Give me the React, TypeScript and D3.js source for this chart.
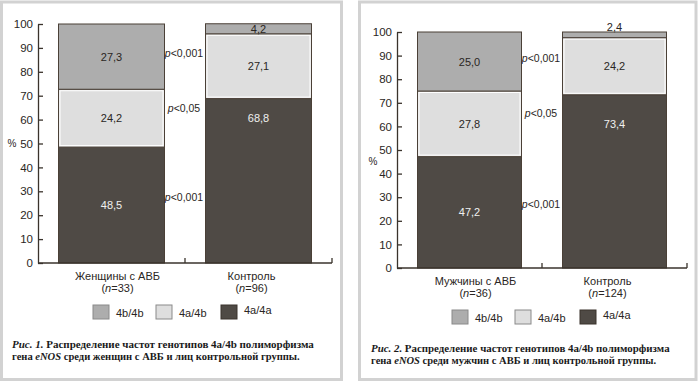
import React from "react";
import * as d3 from "d3";

// ---------- data ----------
const stackKeys = ["4a/4a", "4a/4b", "4b/4b"]; // bottom -> top
const legendKeys = ["4b/4b", "4a/4b", "4a/4a"];
const yTicks = [0, 10, 20, 30, 40, 50, 60, 70, 80, 90, 100];
const pLabels = ["p<0,001", "p<0,05", "p<0,001"]; // bottom, middle, top layer

const fig1Categories = ["Женщины с АВБ", "Контроль"];
const fig1N = ["33", "96"];
const fig1Homo4a = [48.5, 68.8];
const fig1Hetero = [24.2, 27.1];
const fig1Homo4b = [27.3, 4.2];
const fig1CaptionNo = "Рис. 1.";
const fig1CaptionLine1 = " Распределение частот генотипов 4a/4b полиморфизма";
const fig1CaptionLine2 = " среди женщин с АВБ и лиц контрольной группы.";

const fig2Categories = ["Мужчины с АВБ", "Контроль"];
const fig2N = ["36", "124"];
const fig2Homo4a = [47.2, 73.4];
const fig2Hetero = [27.8, 24.2];
const fig2Homo4b = [25.0, 2.4];
const fig2CaptionNo = "Рис. 2.";
const fig2CaptionLine1 = " Распределение частот генотипов 4a/4b полиморфизма";
const fig2CaptionLine2 = " среди мужчин с АВБ и лиц контрольной группы.";

// ---------- styles ----------
const colors: Record<string, string> = {
  "4a/4a": "#4f4a45",
  "4a/4b": "#dedede",
  "4b/4b": "#adadad",
};
const SANS = "'Liberation Sans', Arial, sans-serif";
const SERIF = "'Liberation Serif', 'Times New Roman', serif";
const fmt = (v: number) => d3.format(".1f")(v).replace(".", ",");

type PanelProps = {
  categories: string[];
  ns: string[];
  homo4a: number[];
  hetero: number[];
  homo4b: number[];
  capNo: string;
  cap1: string;
  cap2: string;
  frame: { x: number; y: number; w: number; h: number };
  left: number;
  right: number;
  y0: number;
  y100: number;
  pctX: number;
  pctValue: number;
  capX: number;
  capY: number;
  capScale: [number, number];
};

function Panel(p: PanelProps) {
  const rows = p.categories.map((c, i) => ({
    cat: c,
    "4a/4a": p.homo4a[i],
    "4a/4b": p.hetero[i],
    "4b/4b": p.homo4b[i],
  }));
  const series = d3.stack<any>().keys(stackKeys)(rows);
  const y = d3.scaleLinear().domain([0, 100]).range([p.y0, p.y100]);
  const x = d3.scaleBand().domain(p.categories).range([p.left, p.right]).padding(0);
  const bw = x.bandwidth();
  const barW = bw - 41;
  const barX = (c: string) => (x(c) as number) + (bw - barW) / 2;
  const axisRef = React.useRef<SVGGElement>(null);
  React.useEffect(() => {
    if (!axisRef.current) return;
    const g = d3.select(axisRef.current);
    g.call(
      d3
        .axisLeft(y)
        .tickValues(yTicks)
        .tickSizeInner(-5)
        .tickSizeOuter(0)
        .tickPadding(5)
        .tickFormat(d3.format("d") as any)
    );
    g.selectAll("path,line").attr("stroke", "#3a332c").attr("stroke-width", 1.3);
    g.selectAll("text")
      .attr("fill", "#2a2623")
      .attr("font-size", 11.5)
      .attr("font-family", SANS);
  });

  const center = (bar: number, layer: number) => {
    const s = series[layer][bar];
    return (s[0] + s[1]) / 2;
  };
  const labelValue = (bar: number, layer: number) =>
    bar === 1 && layer === 0 ? center(0, 1) : center(bar, layer);
  const pOffsets = [-8.5, -10.5, -4];
  const boundary = x(p.categories[1]) as number;
  const labelOffsets = [6, -7];

  return (
    <g>
      <rect
        x={p.frame.x}
        y={p.frame.y}
        width={p.frame.w}
        height={p.frame.h}
        fill="#fff"
        stroke="#d2d2d2"
        strokeWidth={3}
      />
      {/* bars */}
      {series.map((s, li) =>
        s.map((d, bi) => {
          const c = p.categories[bi];
          const top = y(d[1]);
          const bot = y(d[0]);
          return (
            <g key={`${li}-${bi}`}>
              <rect
                x={barX(c)}
                y={top}
                width={barW}
                height={bot - top}
                fill={colors[stackKeys[li]]}
                stroke="#4a4037"
                strokeWidth={1}
              />
              {stackKeys[li] === "4a/4b" && (
                <rect
                  x={barX(c) + 1.5}
                  y={top + 1.5}
                  width={barW - 3}
                  height={bot - top - 3}
                  fill="none"
                  stroke="#fff"
                  strokeWidth={1}
                />
              )}
            </g>
          );
        })
      )}
      {/* value labels */}
      {series.map((s, li) =>
        s.map((d, bi) => {
          const c = p.categories[bi];
          const top = y(d[1]);
          const bot = y(d[0]);
          const small = bot - top < 8;
          const yy = small ? top - 5 : y(labelValue(bi, li));
          const fill = stackKeys[li] === "4a/4a" ? "#f0f0f0" : "#2a2623";
          return (
            <text
              key={`l${li}-${bi}`}
              x={barX(c) + barW / 2}
              y={yy}
              textAnchor="middle"
              dominantBaseline="central"
              fontFamily={SANS}
              fontSize={11}
              fill={fill}
            >
              {fmt(d[1] - d[0])}
            </text>
          );
        })
      )}
      {/* p values */}
      {pLabels.map((t, li) => (
        <text
          key={`p${li}`}
          x={boundary - 1}
          y={y(center(0, li)) + pOffsets[li]}
          textAnchor="middle"
          dominantBaseline="central"
          fontFamily={SANS}
          fontSize={10.5}
          fill="#2a2623"
        >
          <tspan fontStyle="italic">p</tspan>
          {t.slice(1)}
        </text>
      ))}
      {/* y axis */}
      <g ref={axisRef} transform={`translate(${p.left},0)`} />
      <text
        x={p.pctX}
        y={y(p.pctValue)}
        textAnchor="middle"
        dominantBaseline="central"
        fontFamily={SANS}
        fontSize={10}
        fill="#2a2623"
      >
        %
      </text>
      {/* x axis */}
      <line x1={p.left} x2={p.right} y1={p.y0} y2={p.y0} stroke="#3a332c" strokeWidth={1.3} />
      {[boundary, p.right].map((bx, i) => (
        <line key={`xt${i}`} x1={bx} x2={bx} y1={p.y0} y2={p.y0 - 5} stroke="#3a332c" strokeWidth={1.3} />
      ))}
      {p.categories.map((c, i) => (
        <g key={`c${i}`}>
          <text
            x={(x(c) as number) + bw / 2 + labelOffsets[i]}
            y={p.y0 + 17}
            textAnchor="middle"
            fontFamily={SANS}
            fontSize={11}
            fill="#2a2623"
          >
            {c}
          </text>
          <text
            x={(x(c) as number) + bw / 2 + labelOffsets[i]}
            y={p.y0 + 29}
            textAnchor="middle"
            fontFamily={SANS}
            fontSize={11}
            fill="#2a2623"
          >
            (<tspan fontStyle="italic">n</tspan>={p.ns[i]})
          </text>
        </g>
      ))}
      {/* legend */}
      {legendKeys.map((k, i) => {
        const lx = p.left + [55, 118, 183][i];
        return (
          <g key={`lg${i}`}>
            <rect
              x={lx}
              y={p.y0 + 42}
              width={16}
              height={14}
              fill={colors[k]}
              stroke={k === "4a/4a" ? "#3a332c" : "#8a8a8a"}
              strokeWidth={1}
            />
            <text
              x={lx + 23}
              y={p.y0 + (i === 2 ? 51 : 54)}
              fontFamily={SANS}
              fontSize={11}
              fill="#2a2623"
            >
              {k}
            </text>
          </g>
        );
      })}
      {/* caption */}
      <g transform={`translate(${p.capX},${p.capY}) scale(${p.capScale[0]},1)`}>
        <text x={0} y={0} fontFamily={SERIF} fontSize={11} fontWeight="bold" fill="#1a1a1a">
          <tspan fontStyle="italic">{p.capNo}</tspan>
          <tspan>{p.cap1}</tspan>
        </text>
      </g>
      <g transform={`translate(${p.capX},${p.capY + 12}) scale(${p.capScale[1]},1)`}>
        <text x={0} y={0} fontFamily={SERIF} fontSize={11} fontWeight="bold" fill="#1a1a1a">
          <tspan>гена </tspan>
          <tspan fontStyle="italic">eNOS</tspan>
          <tspan>{p.cap2}</tspan>
        </text>
      </g>
    </g>
  );
}

export default function App() {
  return (
    <svg
      width={700}
      height={383}
      style={{ position: "absolute", left: 0, top: 0, background: "#fff" }}
    >
      <rect x={0} y={0} width={700} height={383} fill="#fff" />
      <Panel
        categories={fig1Categories}
        ns={fig1N}
        homo4a={fig1Homo4a}
        hetero={fig1Hetero}
        homo4b={fig1Homo4b}
        capNo={fig1CaptionNo}
        cap1={fig1CaptionLine1}
        cap2={fig1CaptionLine2}
        frame={{ x: 1.5, y: 2, w: 340, h: 377.5 }}
        left={38}
        right={332}
        y0={263}
        y100={24}
        pctX={12}
        pctValue={50}
        capX={12}
        capY={348}
        capScale={[1, 0.96]}
      />
      <Panel
        categories={fig2Categories}
        ns={fig2N}
        homo4a={fig2Homo4a}
        hetero={fig2Hetero}
        homo4b={fig2Homo4b}
        capNo={fig2CaptionNo}
        cap1={fig2CaptionLine1}
        cap2={fig2CaptionLine2}
        frame={{ x: 359.5, y: 2, w: 336.5, h: 377.5 }}
        left={397}
        right={687}
        y0={268}
        y100={32}
        pctX={373}
        pctValue={45}
        capX={371}
        capY={352}
        capScale={[0.99, 0.955]}
      />
    </svg>
  );
}
